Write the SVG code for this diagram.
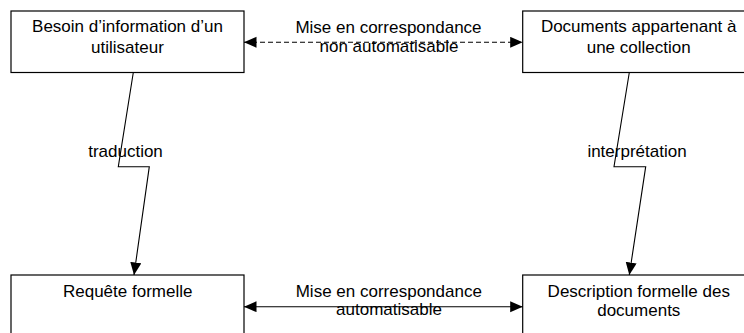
<svg xmlns="http://www.w3.org/2000/svg" width="744" height="333" viewBox="0 0 744 333">
<style>
.box{fill:#fff;stroke:#000;stroke-width:1.2}
.t{font-family:"Liberation Sans",Arial,sans-serif;font-size:17px;fill:#000;text-anchor:middle}
.ln{fill:none;stroke:#000;stroke-width:1.1}
</style>
<defs>
<marker id="ah" markerUnits="userSpaceOnUse" markerWidth="13" markerHeight="12" refX="12.5" refY="5.5" orient="auto-start-reverse">
<path d="M0,0 L12.5,5.5 L0,11 z" fill="#000"/>
</marker>
</defs>
<rect width="744" height="333" fill="#fff"/>
<g id="n1"><rect class="box" x="11" y="11" width="233" height="61.5"/>
<text class="t" x="127.5" y="31.5">Besoin d’information d’un</text>
<text class="t" x="127.5" y="53">utilisateur</text></g>
<g id="n2"><rect class="box" x="522.7" y="11" width="240" height="61.5"/>
<text class="t" x="638.7" y="31.5">Documents appartenant à</text>
<text class="t" x="638.7" y="53">une collection</text></g>
<g id="n3"><rect class="box" x="11" y="275" width="233" height="70"/>
<text class="t" x="127.7" y="296.5">Requête formelle</text></g>
<g id="n4"><rect class="box" x="522.7" y="275" width="240" height="70"/>
<text class="t" x="638.8" y="296.5">Description formelle des</text>
<text class="t" x="638.8" y="316">documents</text></g>
<g id="connectors">
<line class="ln" x1="244" y1="42.3" x2="522.7" y2="42.3" stroke-dasharray="5,3" marker-start="url(#ah)" marker-end="url(#ah)"/>
<line class="ln" x1="244" y1="306.7" x2="522.7" y2="306.7" marker-start="url(#ah)" marker-end="url(#ah)"/>
<polyline class="ln" points="133.3,72.5 118.3,166.7 149.3,166.7 134,275" marker-end="url(#ah)"/>
<polyline class="ln" points="629.3,72.5 614,166.7 645.7,166.7 629.3,275" marker-end="url(#ah)"/>
</g>
<g id="labels">
<text class="t" x="388.5" y="33.3">Mise en correspondance</text>
<text class="t" x="389" y="51.7">non automatisable</text>
<text class="t" x="388.8" y="296.7">Mise en correspondance</text>
<text class="t" x="389" y="315">automatisable</text>
<text class="t" x="125.5" y="156.7">traduction</text>
<text class="t" x="637" y="156.7">interprétation</text>
</g>
</svg>
